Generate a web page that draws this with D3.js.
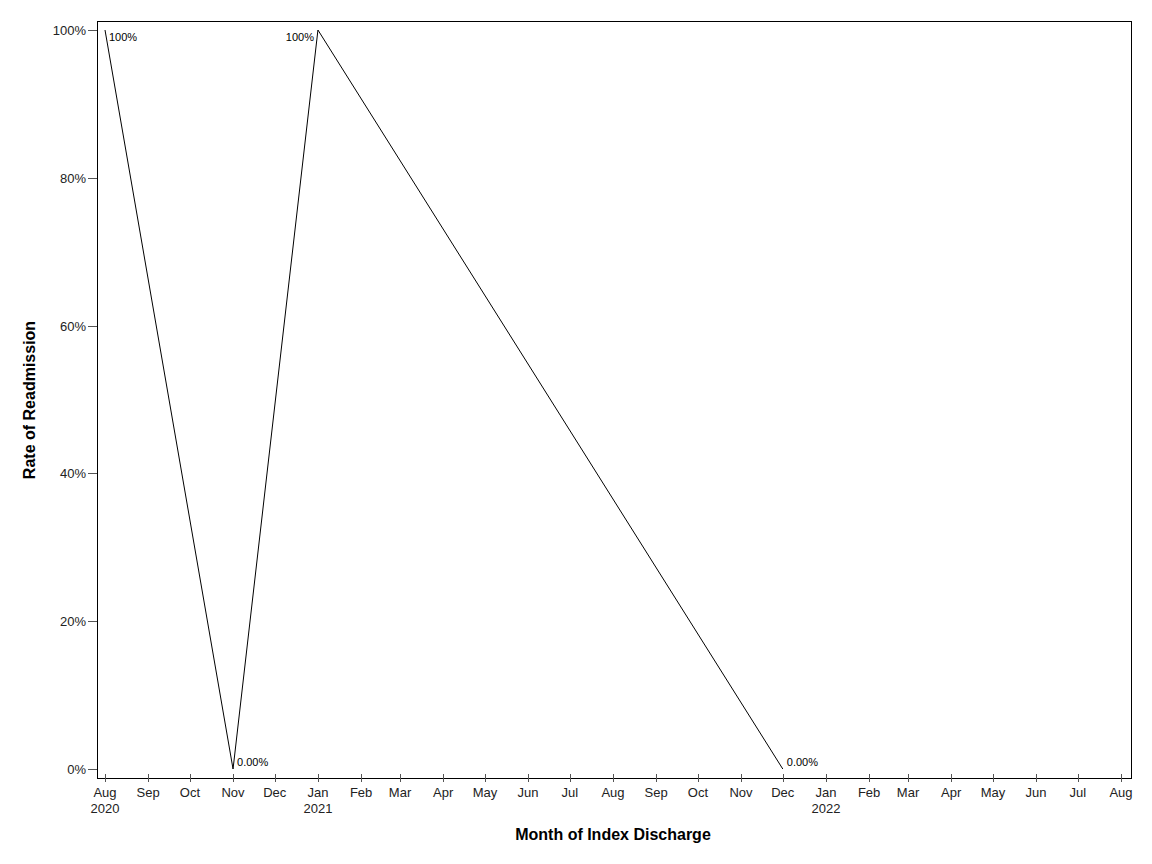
<!DOCTYPE html>
<html>
<head>
<meta charset="utf-8">
<script src="https://cdn.jsdelivr.net/npm/d3@7"></script>
<style>
  body { margin: 0; background: #fff; }
  text { font-family: "Liberation Sans", Arial, sans-serif; }
</style>
</head>
<body>
<svg id="chart" width="1152" height="864"></svg>
<script>
// data
const months = ["2020-08", "2020-11", "2021-01", "2021-12"];
const rates = [1, 0, 1, 0];
const pointLabels = ["100%", "0.00%", "100%", "0.00%"];
const yTicks = [0, 0.2, 0.4, 0.6, 0.8, 1];

const width = 1152, height = 864;
const frame = { left: 97, right: 1131, top: 21, bottom: 778 };

const parse = d3.timeParse("%Y-%m");
const data = months.map((m, i) => ({ date: parse(m), rate: rates[i], label: pointLabels[i] }));

const svg = d3.select("#chart");

//* scales
const x = d3.scaleTime()
  .domain([new Date(2020, 7, 1), new Date(2022, 7, 1)])
  .range([105, 1121]);

const y = d3.scaleLinear()
  .domain([0, 1])
  .range([769, 30]);

//* frame
svg.append("rect")
  .attr("x", frame.left + 0.5)
  .attr("y", frame.top + 0.5)
  .attr("width", frame.right - frame.left)
  .attr("height", frame.bottom - frame.top)
  .attr("fill", "none")
  .attr("stroke", "#000")
  .attr("stroke-width", 1);

//* x axis
const xTicks = d3.timeMonth.range(new Date(2020, 7, 1), new Date(2022, 7, 2));
const xAxis = svg.append("g")
  .attr("transform", `translate(0, ${frame.bottom})`);

xAxis.selectAll("line")
  .data(xTicks)
  .join("line")
  .attr("x1", d => Math.round(x(d)) + 0.5)
  .attr("x2", d => Math.round(x(d)) + 0.5)
  .attr("y1", -4)
  .attr("y2", 4)
  .attr("stroke", "#555");

const xLabels = xAxis.selectAll("text")
  .data(xTicks)
  .join("text")
  .attr("x", d => x(d))
  .attr("y", 19)
  .attr("text-anchor", "middle")
  .attr("font-size", 13)
  .attr("fill", "#222");

xLabels.append("tspan")
  .attr("x", d => x(d))
  .text(d => d3.timeFormat("%b")(d));

xLabels.filter((d, i) => i === 0 || d.getMonth() === 0)
  .append("tspan")
  .attr("x", d => x(d))
  .attr("dy", 16)
  .text(d => d3.timeFormat("%Y")(d));

//* y axis
const yAxis = svg.append("g");

yAxis.selectAll("line")
  .data(yTicks)
  .join("line")
  .attr("x1", frame.left - 9)
  .attr("x2", frame.left)
  .attr("y1", d => Math.round(y(d)) + 0.5)
  .attr("y2", d => Math.round(y(d)) + 0.5)
  .attr("stroke", "#555");

yAxis.selectAll("text")
  .data(yTicks)
  .join("text")
  .attr("x", frame.left - 11)
  .attr("y", d => y(d) + 5)
  .attr("text-anchor", "end")
  .attr("font-size", 13)
  .attr("fill", "#222")
  .text(d => d3.format(".0%")(d));

//* axis titles
svg.append("text")
  .attr("x", 613)
  .attr("y", 840)
  .attr("text-anchor", "middle")
  .attr("font-size", 16)
  .attr("font-weight", "bold")
  .text("Month of Index Discharge");

svg.append("text")
  .attr("transform", `translate(35, 400) rotate(-90)`)
  .attr("text-anchor", "middle")
  .attr("font-size", 16)
  .attr("font-weight", "bold")
  .text("Rate of Readmission");

//* line
svg.append("path")
  .datum(data)
  .attr("fill", "none")
  .attr("stroke", "#000")
  .attr("stroke-width", 1)
  .attr("d", d3.line().x(d => x(d.date)).y(d => y(d.rate)));

//* point labels
svg.selectAll(".pt-label")
  .data(data)
  .join("text")
  .attr("class", "pt-label")
  .attr("x", (d, i) => i === 2 ? x(d.date) - 4 : x(d.date) + 4)
  .attr("y", d => d.rate === 1 ? y(d.rate) + 11 : y(d.rate) - 3)
  .attr("text-anchor", (d, i) => i === 2 ? "end" : "start")
  .attr("font-size", 11)
  .attr("fill", "#000")
  .text(d => d.label);
</script>
</body>
</html>
